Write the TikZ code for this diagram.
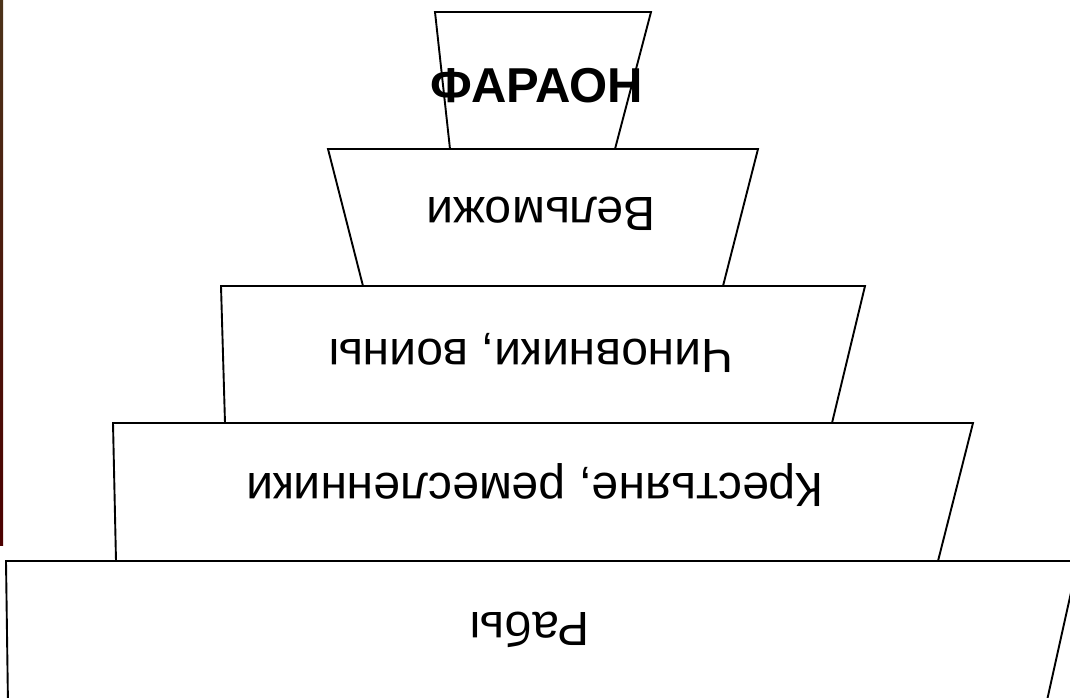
\documentclass[tikz,border=0pt]{standalone}
\usepackage{fontspec}
\setmainfont{Liberation Sans}
\begin{document}
\begin{tikzpicture}[x=1pt,y=-1pt,
  tier/.style={draw=black,line width=1.9pt,line join=miter,fill=white},
  lbl/.style={anchor=base,inner sep=0pt,font=\fontsize{48}{52}\selectfont},
  upside/.style={lbl,rotate=180}]
\useasboundingbox (0,0) rectangle (1070,697);
\clip (0,0) rectangle (1070,697);
% remnant strip at the left border
\shade[top color=black!60!brown,middle color=brown!50!white,bottom color=black!70!red] (0,0) rectangle (3,545);
% tiers
\draw[tier] (435,12) -- (651,12) -- (615,149) -- (450,149) -- cycle;
\draw[tier] (328,149) -- (758,149) -- (723,286) -- (363,286) -- cycle;
\draw[tier] (221,286) -- (865,286) -- (832,423) -- (225,423) -- cycle;
\draw[tier] (113,423) -- (973,423) -- (938,561) -- (116,561) -- cycle;
\draw[tier] (6,561) -- (1078,561) -- (1046,705) -- (8,705) -- cycle;
% labels
\node[lbl,font=\fontsize{49}{53}\selectfont\bfseries] (pharaoh) at (537,102) {ФАРАОН};
\node[upside] (nobles) at (541,197) {Вельможи};
\node[upside] (officials) at (531,339) {Чиновники, воины};
\node[upside] (peasants) at (535,473) {Крестьяне, ремесленники};
\node[upside] (slaves) at (530,612) {Рабы};
\end{tikzpicture}
\end{document}
